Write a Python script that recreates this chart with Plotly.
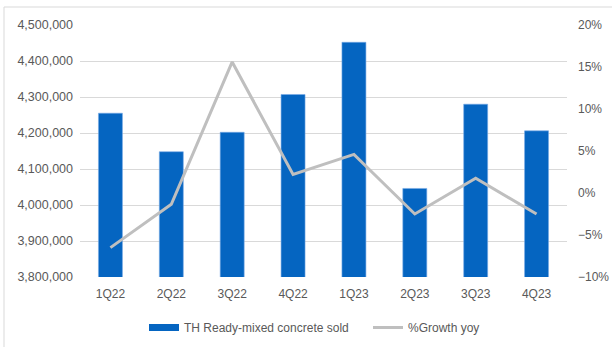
import plotly.graph_objects as go

quarters = ["1Q22", "2Q22", "3Q22", "4Q22", "1Q23", "2Q23", "3Q23", "4Q23"]
volume_sold = [4255000, 4148000, 4202000, 4307000, 4452000, 4046000, 4280000, 4206000]
growth_yoy = [-0.065, -0.0135, 0.156, 0.022, 0.046, -0.025, 0.0175, -0.025]

blue = "#0565C1"
gray_line = "#BFBFBF"
txt = "#595959"
font_family = "Liberation Sans, Arial, sans-serif"

fig = go.Figure()
fig.add_trace(go.Bar(
    x=quarters, y=volume_sold, name="TH Ready-mixed concrete sold",
    marker=dict(color=blue, line=dict(color="rgba(120,170,230,0.6)", width=1)),
    showlegend=False, yaxis="y",
))
# legend-only entry for the bar series (wide, flat swatch like the reference)
fig.add_trace(go.Scatter(
    x=[None], y=[None], mode="lines", name="TH Ready-mixed concrete sold",
    line=dict(color=blue, width=7), showlegend=True, yaxis="y",
))
fig.add_trace(go.Scatter(
    x=quarters, y=growth_yoy, name="%Growth yoy", mode="lines",
    line=dict(color=gray_line, width=3), yaxis="y2",
))

L, R, T, B = 80, 45, 25, 70
W, H = 612, 347
pw, ph = W - L - R, H - T - B

fig.update_layout(
    width=W, height=H,
    margin=dict(l=L, r=R, t=T, b=B, autoexpand=False),
    paper_bgcolor="white", plot_bgcolor="white",
    font=dict(family=font_family, size=12, color=txt),
    bargap=0.606,
    xaxis=dict(
        showgrid=False, showline=False, zeroline=False, ticks="",
        tickfont=dict(size=12, color=txt), ticklabelstandoff=8,
    ),
    yaxis=dict(
        range=[3800000, 4500000], dtick=100000, tickformat=",",
        showgrid=True, gridcolor="#D9D9D9", gridwidth=1,
        zeroline=False, showline=False, ticks="",
        tickfont=dict(size=12.5, color=txt), ticklabelstandoff=6,
    ),
    yaxis2=dict(
        overlaying="y", side="right",
        range=[-0.10, 0.20], dtick=0.05, tickformat=".0%",
        showgrid=False, zeroline=False, showline=False, ticks="",
        tickfont=dict(size=12, color=txt), ticklabelstandoff=10,
    ),
    legend=dict(
        orientation="h", x=(144 - L) / pw, xanchor="left", y=-36 / ph, yanchor="top",
        font=dict(size=12, color=txt), bgcolor="rgba(0,0,0,0)",
        itemwidth=30, entrywidth=179, entrywidthmode="pixels",
    ),
    shapes=[dict(
        type="rect", xref="paper", yref="paper",
        x0=(4 - L) / pw, x1=(W + 20 - L) / pw,
        y0=-(H + 20 - T - ph) / ph, y1=(ph + T - 7) / ph,
        line=dict(color="#D9D9D9", width=1), fillcolor="rgba(0,0,0,0)", layer="below",
    )],
)

fig.write_html("out.html")
